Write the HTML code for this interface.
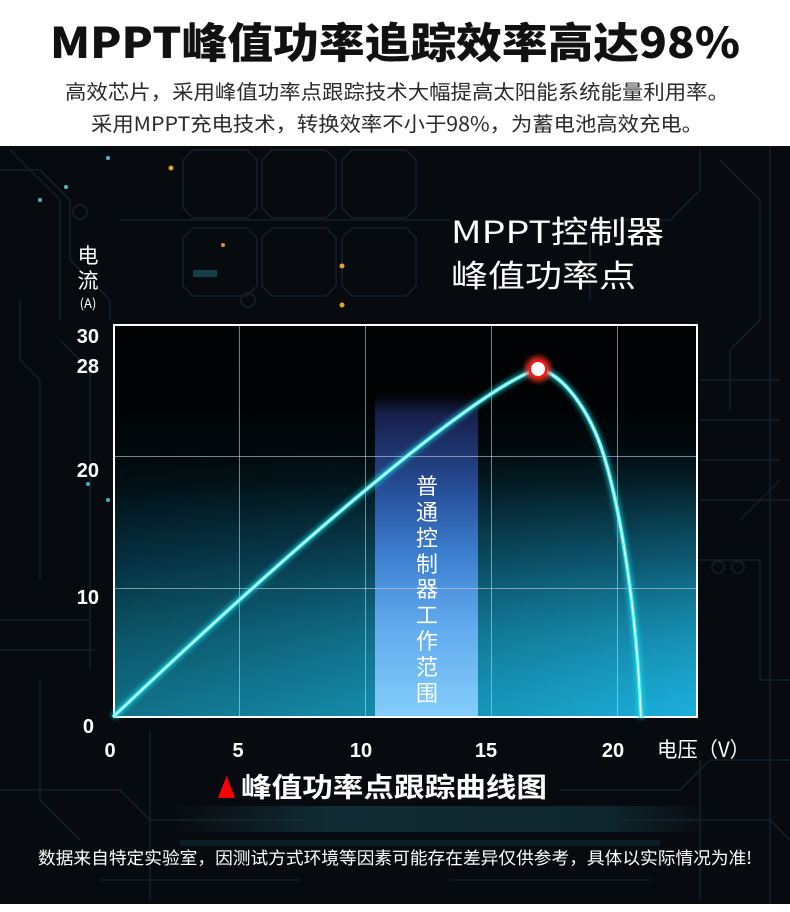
<!DOCTYPE html>
<html><head><meta charset="utf-8">
<style>
html,body{margin:0;padding:0;background:#fff;}
svg{display:block;}
text{font-family:"Liberation Sans","Noto Sans CJK SC",sans-serif;}
.cjk{font-family:"Noto Sans CJK SC","Liberation Sans",sans-serif;}
</style></head>
<body>
<svg width="790" height="912" viewBox="0 0 790 912" xmlns="http://www.w3.org/2000/svg">
<defs>
  <linearGradient id="gV" x1="0" y1="0" x2="0" y2="1">
    <stop offset="0" stop-color="#000203"/>
    <stop offset="0.2" stop-color="#010304"/>
    <stop offset="0.4" stop-color="#020e13"/>
    <stop offset="0.6" stop-color="#063040"/>
    <stop offset="0.8" stop-color="#0c5668"/>
    <stop offset="1" stop-color="#117289"/>
  </linearGradient>
  <linearGradient id="gH" x1="0" y1="0" x2="1" y2="0">
    <stop offset="0" stop-color="#1aaad5" stop-opacity="0"/>
    <stop offset="1" stop-color="#1cb0dc" stop-opacity="1"/>
  </linearGradient>
  <linearGradient id="gM" x1="0" y1="0" x2="0" y2="1">
    <stop offset="0" stop-color="#000"/>
    <stop offset="0.3" stop-color="#000"/>
    <stop offset="0.6" stop-color="#555"/>
    <stop offset="1" stop-color="#fff"/>
  </linearGradient>
  <mask id="mk"><rect x="113" y="324" width="585" height="394" fill="url(#gM)"/></mask>
  <linearGradient id="gB" x1="0" y1="0" x2="0" y2="1">
    <stop offset="0" stop-color="#1a2152" stop-opacity="0"/>
    <stop offset="0.06" stop-color="#1b2458" stop-opacity="0.85"/>
    <stop offset="0.3" stop-color="#27509c"/>
    <stop offset="0.5" stop-color="#3d80d0"/>
    <stop offset="0.72" stop-color="#62abee"/>
    <stop offset="1" stop-color="#84cefa"/>
  </linearGradient>
  <linearGradient id="gTeal" x1="0" y1="0" x2="1" y2="0">
    <stop offset="0" stop-color="#14333b" stop-opacity="0"/>
    <stop offset="0.3" stop-color="#14353d" stop-opacity="0.8"/>
    <stop offset="0.8" stop-color="#112d35" stop-opacity="0.8"/>
    <stop offset="1" stop-color="#112d35" stop-opacity="0"/>
  </linearGradient>
  <filter id="blur3" x="-20%" y="-20%" width="140%" height="140%"><feGaussianBlur stdDeviation="2.5"/></filter>
  <filter id="blur2" x="-50%" y="-50%" width="200%" height="200%"><feGaussianBlur stdDeviation="2.5"/></filter>
</defs>

<rect x="0" y="0" width="790" height="912" fill="#ffffff"/>
<rect x="0" y="146" width="790" height="758" fill="#070b10"/>

<g fill="none" stroke="#15212a" stroke-width="1.5">
  <path d="M193,150 h54 l10,10 v48 l-10,10 h-54 l-10,-10 v-48 z"/>
  <path d="M272,150 h54 l10,10 v48 l-10,10 h-54 l-10,-10 v-48 z"/>
  <path d="M352,150 h54 l10,10 v48 l-10,10 h-54 l-10,-10 v-48 z"/>
  <path d="M193,228 h54 l10,10 v48 l-10,10 h-54 l-10,-10 v-48 z"/>
  <path d="M272,228 h54 l10,10 v48 l-10,10 h-54 l-10,-10 v-48 z"/>
  <path d="M352,228 h54 l10,10 v48 l-10,10 h-54 l-10,-10 v-48 z"/>
  <path d="M120,220 H450"/>
  <path d="M0,170 h40 l30,30 v60 l40,40 v20"/>
  <path d="M10,150 l50,50 v120"/>
  <path d="M20,300 v60 l20,20 v200"/>
  <path d="M60,340 l30,30 v300"/>
  <path d="M0,620 h90"/>
  <path d="M0,650 h95"/>
  <path d="M40,680 v120 l40,40"/>
  <circle cx="80" cy="212" r="7"/>
  <circle cx="248" cy="300" r="7"/>
  <path d="M700,150 v40 l-30,30 h-60 l-20,20 v60"/>
  <path d="M720,160 l40,40 v120 l-30,30 v60"/>
  <path d="M700,380 h80 M700,420 h80 M700,460 h80 M700,500 h90"/>
  <path d="M740,520 l40,-40"/>
  <path d="M770,146 V904"/>
  <path d="M700,560 h60 v120 h30"/>
  <circle cx="718" cy="567" r="6"/><circle cx="738" cy="567" r="6"/>
  <path d="M0,790 h120 l30,30 h160"/>
  <path d="M560,790 h120 l30,-30 h80"/>
  <path d="M620,820 h150 l20,20"/>
  <path d="M100,880 h200 M450,880 h200"/>
  <path d="M700,760 v140"/>
  <path d="M150,730 v170"/>
</g>
<rect x="170" y="806" width="540" height="26" fill="url(#gTeal)"/>
<rect x="180" y="840" width="480" height="6" fill="#0f2a32" opacity="0.6"/>
<g>
  <circle cx="171" cy="168" r="2.5" fill="#d8a030"/>
  <circle cx="223" cy="245" r="2" fill="#d89030"/>
  <circle cx="342" cy="266" r="2.5" fill="#e0a040"/>
  <circle cx="342" cy="305" r="2.5" fill="#e0a040"/>
  <circle cx="108" cy="158" r="2" fill="#4fb8c8"/>
  <circle cx="66" cy="187" r="2" fill="#4fb8c8"/>
  <circle cx="40" cy="200" r="2" fill="#4fb8c8"/>
  <rect x="193" y="270" width="24" height="7" fill="#134048"/>
  <circle cx="88" cy="484" r="2" fill="#3ab0c0"/>
  <circle cx="108" cy="500" r="2" fill="#3ab0c0"/>
</g>

<rect x="113" y="324" width="585" height="394" fill="url(#gV)"/>
<rect x="113" y="324" width="585" height="394" fill="url(#gH)" mask="url(#mk)"/>

<rect x="375" y="395" width="103" height="323" fill="url(#gB)"/>

<g stroke="#c8d0d4" stroke-opacity="0.6" stroke-width="1">
  <line x1="239.5" y1="324" x2="239.5" y2="718"/>
  <line x1="365.5" y1="324" x2="365.5" y2="718"/>
  <line x1="491.5" y1="324" x2="491.5" y2="718"/>
  <line x1="617.5" y1="324" x2="617.5" y2="718"/>
  <line x1="113" y1="456.5" x2="698" y2="456.5"/>
  <line x1="113" y1="588.5" x2="698" y2="588.5"/>
</g>
<rect x="114" y="325" width="583" height="392" fill="none" stroke="#ffffff" stroke-width="2"/>

<g fill="#ffffff" font-size="22" text-anchor="middle">
  <text class="cjk" x="427" y="494">普</text>
  <text class="cjk" x="427" y="520">通</text>
  <text class="cjk" x="427" y="546">控</text>
  <text class="cjk" x="427" y="572">制</text>
  <text class="cjk" x="427" y="597">器</text>
  <text class="cjk" x="427" y="623">工</text>
  <text class="cjk" x="427" y="649">作</text>
  <text class="cjk" x="427" y="675">范</text>
  <text class="cjk" x="427" y="701">围</text>
</g>

<path d="M113,717 C300,540 478,388 538,369 C562,373 590,410 604,456 C619,505 636,600 641,718" fill="none" stroke="#22e6ee" stroke-width="7" opacity="0.6" filter="url(#blur3)"/>
<path d="M113,717 C300,540 478,388 538,369 C562,373 590,410 604,456 C619,505 636,600 641,718" fill="none" stroke="#2ff0f2" stroke-width="3.8"/>
<path d="M113,717 C300,540 478,388 538,369 C562,373 590,410 604,456 C619,505 636,600 641,718" fill="none" stroke="#eaffff" stroke-width="1.6"/>

<circle cx="538" cy="369" r="13" fill="#ff3020" opacity="0.75" filter="url(#blur2)"/>
<circle cx="538" cy="369" r="9.5" fill="#f01818"/>
<circle cx="538" cy="369" r="7" fill="#ffffff"/>

<text class="cjk" x="395" y="58" font-size="42" font-weight="900" fill="#111111" text-anchor="middle" textLength="690" lengthAdjust="spacingAndGlyphs">MPPT峰值功率追踪效率高达98%</text>
<text class="cjk" x="397" y="99" font-size="20" fill="#2a2a2a" text-anchor="middle" textLength="664" lengthAdjust="spacingAndGlyphs">高效芯片，采用峰值功率点跟踪技术大幅提高太阳能系统能量利用率。</text>
<text class="cjk" x="397" y="131" font-size="20" fill="#2a2a2a" text-anchor="middle" textLength="612" lengthAdjust="spacingAndGlyphs">采用MPPT充电技术，转换效率不小于98%，为蓄电池高效充电。</text>

<text class="cjk" x="451" y="243" font-size="31" fill="#ffffff" textLength="213" lengthAdjust="spacingAndGlyphs">MPPT控制器</text>
<text class="cjk" x="451" y="287" font-size="31" fill="#ffffff" textLength="185" lengthAdjust="spacingAndGlyphs">峰值功率点</text>

<text class="cjk" x="88" y="263" font-size="21" fill="#ffffff" text-anchor="middle">电</text>
<text class="cjk" x="88" y="288" font-size="21" fill="#ffffff" text-anchor="middle">流</text>
<text class="cjk" x="88" y="308" font-size="13" fill="#ffffff" text-anchor="middle">(A)</text>

<g fill="#ffffff" font-size="20" font-weight="bold" text-anchor="end">
  <text x="99" y="343">30</text>
  <text x="99" y="373">28</text>
  <text x="99" y="477">20</text>
  <text x="99" y="604">10</text>
  <text x="94" y="733">0</text>
</g>
<g fill="#ffffff" font-size="20" font-weight="bold" text-anchor="middle">
  <text x="110" y="757">0</text>
  <text x="238" y="757">5</text>
  <text x="361" y="757">10</text>
  <text x="486" y="757">15</text>
  <text x="613" y="757">20</text>
</g>
<text class="cjk" x="657" y="757" font-size="21" fill="#ffffff" textLength="93" lengthAdjust="spacingAndGlyphs">电压（V）</text>

<polygon points="226.5,776 235,798 218,798" fill="#ff0000"/>
<text class="cjk" x="241" y="797" font-size="27" font-weight="bold" fill="#ffffff" textLength="306" lengthAdjust="spacingAndGlyphs">峰值功率点跟踪曲线图</text>

<text class="cjk" x="38" y="864" font-size="17" fill="#ffffff" textLength="714" lengthAdjust="spacingAndGlyphs">数据来自特定实验室，因测试方式环境等因素可能存在差异仅供参考，具体以实际情况为准!</text>
</svg>
</body></html>
